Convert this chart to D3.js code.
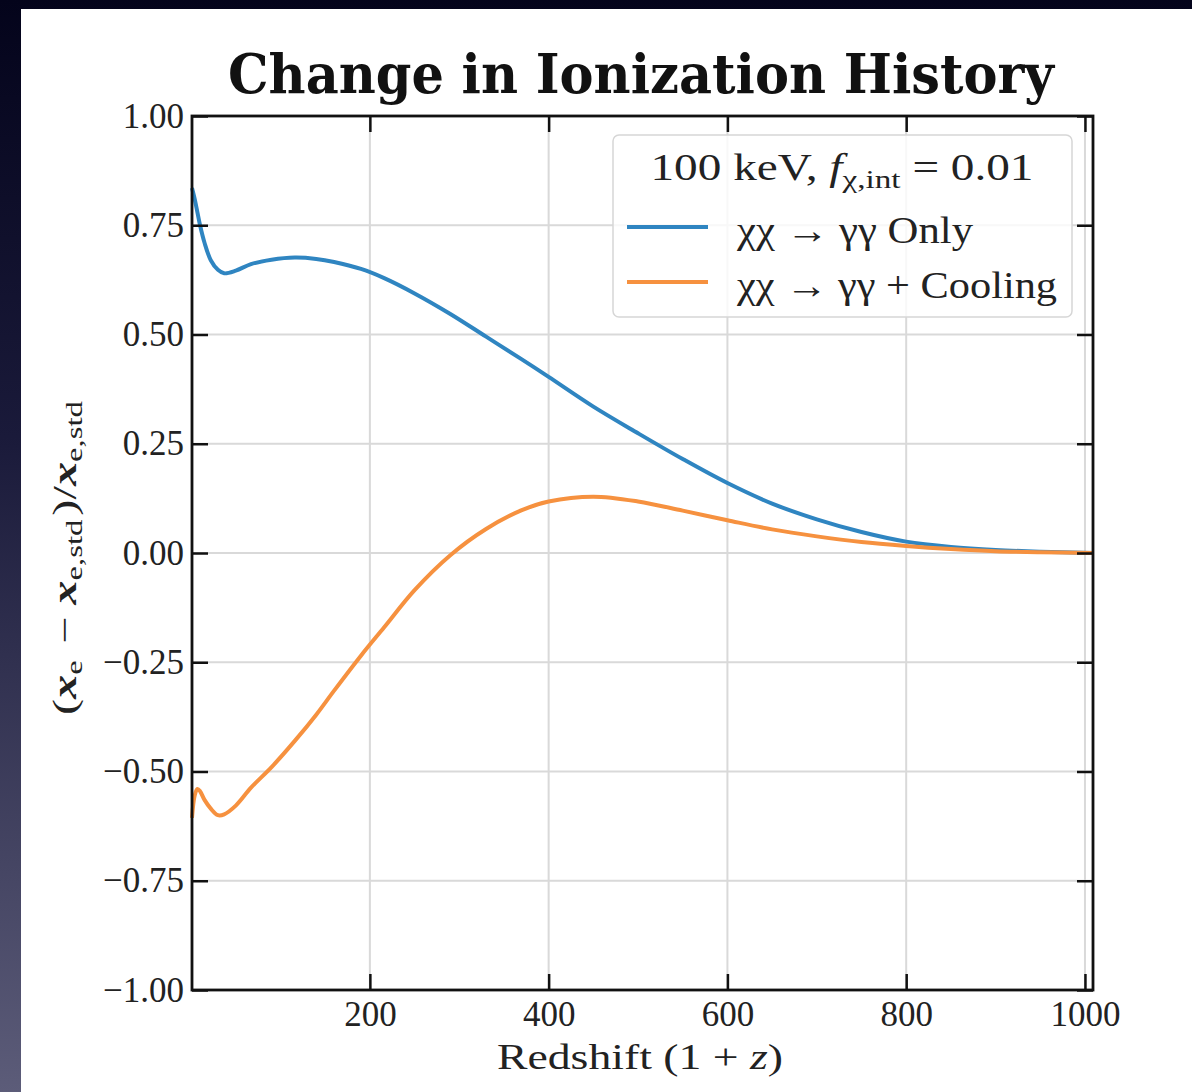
<!DOCTYPE html>
<html>
<head>
<meta charset="utf-8">
<script src="https://cdn.jsdelivr.net/npm/d3@7"></script>
<style>
  html, body { margin: 0; padding: 0; }
  body { width: 1192px; height: 1092px; overflow: hidden;
         background: linear-gradient(#04041b 0%, #1a1a3a 40%, #5c5c79 100%); }
  svg { display: block; }
  .serif { font-family: "Liberation Serif", "DejaVu Serif", serif; }
</style>
</head>
<body>
<svg id="chart" width="1192" height="1092"></svg>
<script>
// redshift (1+z) sample points shared by both curves
const redshift = [1, 4, 7, 10, 15, 22, 30, 37, 50, 67, 90, 116, 140, 160, 190, 216,
                  250, 290, 330, 370, 400, 450, 500, 550, 600, 650, 700, 750, 800,
                  850, 900, 950, 1009];
// (x_e - x_e,std)/x_e,std
const gammaOnly = [0.835, 0.81, 0.78, 0.75, 0.71, 0.67, 0.648, 0.64, 0.646, 0.661,
                   0.671, 0.676, 0.673, 0.666, 0.65, 0.629, 0.594, 0.547, 0.495,
                   0.443, 0.403, 0.335, 0.274, 0.215, 0.16, 0.113, 0.077, 0.048,
                   0.026, 0.014, 0.007, 0.003, 0.0];
const gammaCooling = [-0.606, -0.555, -0.54, -0.545, -0.565, -0.585, -0.60, -0.598,
                      -0.578, -0.537, -0.49, -0.43, -0.37, -0.315, -0.235, -0.17,
                      -0.085, -0.005, 0.055, 0.098, 0.118, 0.129, 0.118, 0.097,
                      0.075, 0.054, 0.038, 0.025, 0.016, 0.009, 0.004, 0.002, 0.0];
const xTicks = [200, 400, 600, 800, 1000];
const yTicks = [-1, -0.75, -0.5, -0.25, 0, 0.25, 0.5, 0.75, 1];

const series = [
  { name: "only", values: gammaOnly, color: "#2f85c1" },
  { name: "cooling", values: gammaCooling, color: "#f6913f" }
];

const margin = { left: 192, right: 1093, top: 116, bottom: 990 };
const svg = d3.select("#chart");

// white page panel
svg.append("rect").attr("x", 21).attr("y", 9)
  .attr("width", 1192 - 21).attr("height", 1092 - 9).attr("fill", "#fff");

const x = d3.scaleLinear().domain([1, 1009]).range([margin.left, margin.right]);
const y = d3.scaleLinear().domain([-1, 1]).range([margin.bottom, margin.top]);

// grid
const grid = svg.append("g").attr("stroke", "#d9d9d9").attr("stroke-width", 2);
grid.selectAll(".gx").data(xTicks).enter().append("line")
  .attr("x1", d => x(d)).attr("x2", d => x(d))
  .attr("y1", margin.top).attr("y2", margin.bottom);
grid.selectAll(".gy").data(yTicks).enter().append("line")
  .attr("x1", margin.left).attr("x2", margin.right)
  .attr("y1", d => y(d)).attr("y2", d => y(d));

// curves
const line = d3.line()
  .x((d, i) => x(redshift[i]))
  .y(d => y(d))
  .curve(d3.curveCatmullRom.alpha(0.5));

svg.append("g").selectAll("path")
  .data(series).enter().append("path")
  .attr("fill", "none")
  .attr("stroke", d => d.color)
  .attr("stroke-width", 4)
  .attr("stroke-linejoin", "round")
  .attr("d", d => line(d.values));

// axes with inward ticks on every side
const fmt = d3.format(".2f");
function styleAxis(g) {
  g.select(".domain").remove();
  g.selectAll(".tick line").attr("stroke", "#111").attr("stroke-width", 2.5);
  g.selectAll(".tick text").attr("class", "serif").attr("fill", "#222")
    .style("font-size", "35px");
}
svg.append("g").attr("transform", `translate(0,${margin.bottom})`)
  .call(d3.axisBottom(x).tickValues(xTicks).tickSize(-16).tickPadding(11).tickFormat(d3.format("d")))
  .call(styleAxis);
svg.append("g").attr("transform", `translate(0,${margin.top})`)
  .call(d3.axisTop(x).tickValues(xTicks).tickSize(-16).tickFormat(""))
  .call(styleAxis);
svg.append("g").attr("transform", `translate(${margin.left},0)`)
  .call(d3.axisLeft(y).tickValues(yTicks).tickSize(-16).tickPadding(8).tickFormat(fmt))
  .call(styleAxis);
svg.append("g").attr("transform", `translate(${margin.right},0)`)
  .call(d3.axisRight(y).tickValues(yTicks).tickSize(-16).tickFormat(""))
  .call(styleAxis);

// frame
svg.append("rect")
  .attr("x", margin.left).attr("y", margin.top)
  .attr("width", margin.right - margin.left).attr("height", margin.bottom - margin.top)
  .attr("fill", "none").attr("stroke", "#111").attr("stroke-width", 2.8);

// title
svg.append("text")
  .attr("x", 641).attr("y", 93)
  .attr("text-anchor", "middle")
  .attr("textLength", 826).attr("lengthAdjust", "spacingAndGlyphs")
  .style("font-family", "'DejaVu Serif', serif")
  .style("font-weight", "bold").style("font-size", "54px")
  .attr("fill", "#111")
  .text("Change in Ionization History");

// x label
const xl = svg.append("text").attr("class", "serif")
  .attr("x", 640).attr("y", 1069).attr("text-anchor", "middle")
  .attr("textLength", 286).attr("lengthAdjust", "spacingAndGlyphs")
  .style("font-size", "36px").attr("fill", "#222");
xl.append("tspan").text("Redshift (1 + ");
xl.append("tspan").style("font-style", "italic").text("z");
xl.append("tspan").text(")");

// y label
const yl = svg.append("text").attr("class", "serif")
  .attr("transform", "translate(76,556) rotate(-90)")
  .attr("text-anchor", "middle")
  .attr("textLength", 318).attr("lengthAdjust", "spacingAndGlyphs")
  .style("font-size", "34px").attr("fill", "#222");
function xe(sub) {
  yl.append("tspan").style("font-style", "italic").style("font-weight", "bold").text("x");
  yl.append("tspan").attr("dy", 6).style("font-size", "23px").text(sub);
  yl.append("tspan").attr("dy", -6).text("\u200A");
}
yl.append("tspan").text("(");
xe("e");
yl.append("tspan").text(" \u2212 ");
xe("e,std");
yl.append("tspan").text(")/");
xe("e,std");

// legend
const legend = svg.append("g");
legend.append("rect")
  .attr("x", 613).attr("y", 135).attr("width", 459).attr("height", 182)
  .attr("rx", 6).attr("fill", "#fff").attr("fill-opacity", 0.8)
  .attr("stroke", "#d6d6d6").attr("stroke-width", 1.5);
const lt = legend.append("text").attr("class", "serif")
  .attr("x", 842).attr("y", 180).attr("text-anchor", "middle")
  .attr("textLength", 383).attr("lengthAdjust", "spacingAndGlyphs")
  .style("font-size", "37px").attr("fill", "#222");
lt.append("tspan").text("100 keV, ");
lt.append("tspan").style("font-style", "italic").text("f");
lt.append("tspan").attr("dy", 8).style("font-size", "26px").text("\u03C7,int");
lt.append("tspan").attr("dy", -8).text(" = 0.01");

const entries = [
  { label: "\u03C7\u03C7 \u2192 \u03B3\u03B3 Only", color: series[0].color, y: 227, w: 236 },
  { label: "\u03C7\u03C7 \u2192 \u03B3\u03B3 + Cooling", color: series[1].color, y: 282, w: 320 }
];
const row = legend.selectAll(".entry").data(entries).enter().append("g");
row.append("line")
  .attr("x1", 627).attr("x2", 708)
  .attr("y1", d => d.y).attr("y2", d => d.y)
  .attr("stroke", d => d.color).attr("stroke-width", 4);
row.append("text").attr("class", "serif")
  .attr("x", 737).attr("y", d => d.y + 16)
  .attr("textLength", d => d.w).attr("lengthAdjust", "spacingAndGlyphs")
  .style("font-size", "37px").attr("fill", "#222")
  .text(d => d.label);
</script>
</body>
</html>
